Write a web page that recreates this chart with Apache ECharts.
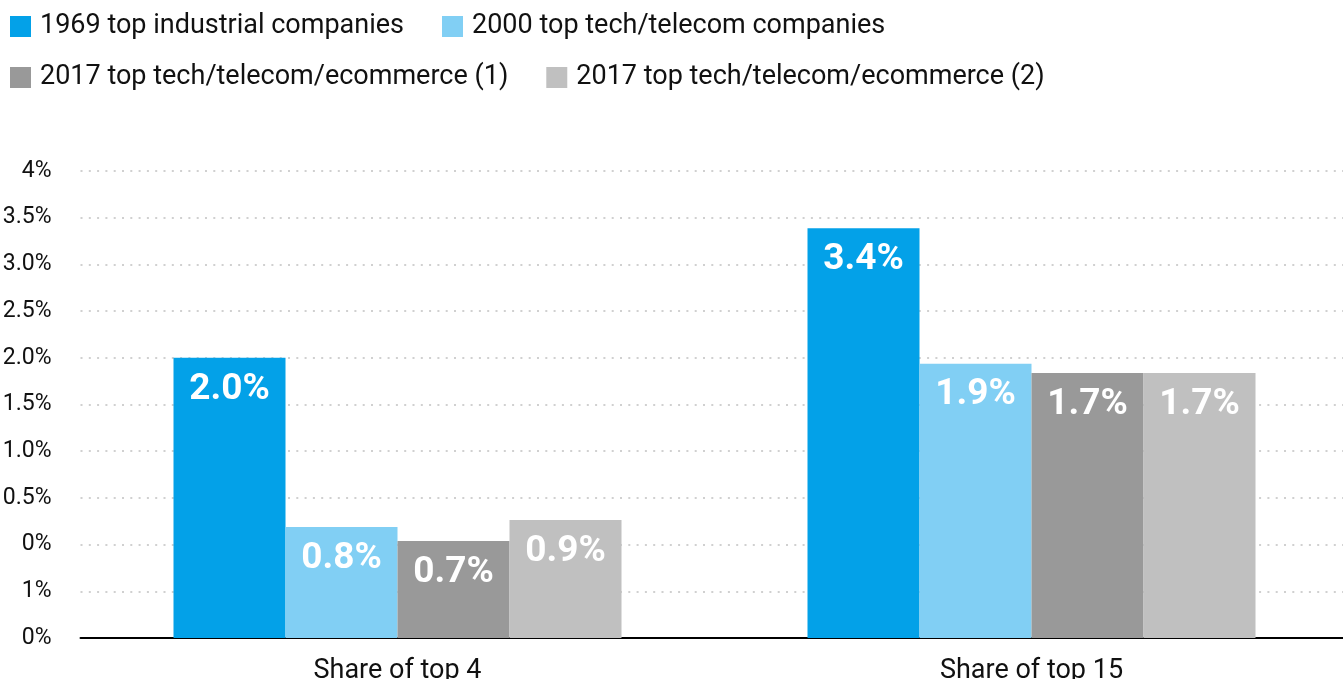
<!DOCTYPE html>
<html>
<head>
<meta charset="utf-8">
<script src="https://cdn.jsdelivr.net/npm/echarts@6/dist/echarts.min.js"></script>
<style>
html,body{margin:0;padding:0;background:#fff;}
#chart{width:1343px;height:679px;}
</style>
</head>
<body>
<div id="chart"></div>
<script>
var categories = ['Share of top 4', 'Share of top 15'];
var seriesNames = ['1969 top industrial companies', '2000 top tech/telecom companies', '2017 top tech/telecom/ecommerce (1)', '2017 top tech/telecom/ecommerce (2)'];
var colors = ['#03A1E8', '#81CFF4', '#999999', '#C0C0C0'];
// bar heights as drawn against the axis
var s1969 = [2.40, 3.51];
var s2000 = [0.95, 2.35];
var s2017a = [0.83, 2.27];
var s2017b = [1.01, 2.27];
// printed value labels
var lab1969 = ['2.0%', '3.4%'];
var lab2000 = ['0.8%', '1.9%'];
var lab2017a = ['0.7%', '1.7%'];
var lab2017b = ['0.9%', '1.7%'];
// printed y tick labels (bottom to top)
var tickLabels = ['0%', '1%', '0%', '0.5%', '1.0%', '1.5%', '2.0%', '2.5%', '3.0%', '3.5%', '4%'];

var values = [s1969, s2000, s2017a, s2017b];
var labels = [lab1969, lab2000, lab2017a, lab2017b];

var chart = echarts.init(document.getElementById('chart'));
var legendCommon = {
  itemWidth: 21, itemHeight: 21, itemGap: 38, icon: 'rect', padding: 0,
  textStyle: {fontFamily: 'Roboto', fontSize: 27, color: '#111', padding: [0,0,0,4]}
};
var option = {
  animation: false,
  color: colors,
  legend: [
    Object.assign({left: 10, top: 13, data: [seriesNames[0], seriesNames[1]]}, legendCommon),
    Object.assign({left: 10, top: 64, data: [seriesNames[2], seriesNames[3]]}, legendCommon)
  ],
  grid: {left: 80.5, top: 171, width: 1268, bottom: 41, containLabel: false, outerBoundsMode: 'none'},
  xAxis: {
    type: 'category', data: categories,
    axisLine: {lineStyle: {color: '#000', width: 2}},
    axisTick: {show: false},
    axisLabel: {fontFamily: 'Roboto', fontSize: 27, color: '#111', margin: 20}
  },
  yAxis: {
    type: 'value', min: 0, max: 4, interval: 0.4,
    axisLine: {show: false}, axisTick: {show: false},
    splitLine: {lineStyle: {color: '#d0d0d0', type: [2, 6.3], width: 2}},
    axisLabel: {
      fontFamily: 'Roboto', fontSize: 23, color: '#111', margin: 29,
      formatter: function (v) { return tickLabels[Math.round(v / 0.4)]; }
    }
  },
  series: values.map(function (d, i) {
    return {
      name: seriesNames[i], type: 'bar', data: d, barWidth: 112, barGap: '0%',
      itemStyle: {color: colors[i]},
      label: {
        show: true, position: 'insideTop', distance: 13,
        fontFamily: 'Roboto', fontWeight: 'bold', fontSize: 37, color: '#fff',
        formatter: function (p) { return labels[i][p.dataIndex]; }
      }
    };
  })
};
chart.setOption(option);
</script>
</body>
</html>
